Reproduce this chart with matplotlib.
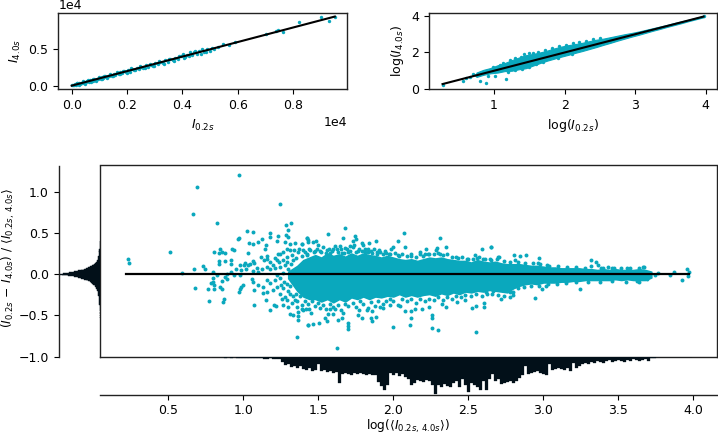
import numpy as np
import matplotlib
matplotlib.use("Agg")
import matplotlib.pyplot as plt

TEAL = '#0aa8bd'
DARK = '#021019'

# top left panel, raw intensities
raw_points = [(20,30),(60,120),(90,40),(120,200),(150,110),(190,300),(220,170),(260,340),(300,240),(330,410),(370,320),(410,470),
    (450,380),(490,560),(520,450),(570,630),(610,540),(650,720),(690,620),(730,800),(770,690),(820,880),(860,780),(900,980),
    (950,860),(1000,1080),(1040,960),(1090,1170),(1140,1040),(1190,1270),(1240,1150),(1300,1380),(1350,1260),(1400,1480),
    (1460,1360),(1520,1590),(1580,1470),(1640,1900),(1700,1600),(1760,1840),(1820,1720),(1890,1970),(1950,1860),(2030,2120),
    (2100,1900),(2180,2290),(2260,2110),(2340,2440),(2420,2290),(2500,2580),(2590,2450),(2680,2820),(2760,2620),(2850,2900),
    (2930,2770),(3020,3150),(3110,2990),(3200,3250),(3290,3090),(3380,3500),(3470,3320),(3560,3690),(3650,3510),(3740,3830),
    (3830,3700),(3930,4020),(4010,4350),(4080,3880),(4170,4240),(4260,4580),(4340,4230),(4430,4600),(4520,4420),(4610,4830),
    (4700,4980),(4790,4560),(4880,5100),(4980,4830),(5130,5040),(5290,5370),(5480,5720),(5680,5610),(5900,5960),(7000,7160),
    (7380,7450),(7630,7420),(7450,7640),(8200,8790),(9000,9400),(9300,8930),(9490,9430)]
raw_fringe = [(200,420),(280,120),(400,600),(480,250),(590,780),(680,470),(780,970),(880,650),(980,1180),(1080,870),(1180,1380),
    (1280,1050),(1380,1570),(1500,1320),(1620,1750),(1740,1540),(1860,2060),(1980,1780),(2150,2380),(2300,2090),(2460,2680),
    (2640,2390),(2820,3010),(2980,2730),(3150,3340),(3320,3040),(3500,3720),(3700,3440),(3880,4090),(4050,3750),(4250,4060),
    (4460,4750),(4660,4400),(4850,4680),(5050,5180)]
raw_line_x = [0, 9500]
raw_line_y = [0, 9500]

# top right panel, log intensities, band edges then stray points
log_band_x = [0.75,0.85,0.95,1.05,1.15,1.25,1.35,1.45,1.55,1.65,1.75,1.85,1.95,2.05,2.15,2.25,2.35,2.45,2.55,2.65,
    2.75,2.85,2.95,3.05,3.15,3.25,3.35,3.45,3.55,3.65,3.75,3.85,3.97]
log_band_hi = [0.9,1.05,1.15,1.3,1.42,1.58,1.72,1.85,1.92,2.0,2.1,2.22,2.32,2.4,2.46,2.53,2.62,2.7,2.76,2.84,
    2.92,3.0,3.07,3.15,3.24,3.33,3.42,3.51,3.61,3.7,3.79,3.89,4.0]
log_band_lo = [0.66,0.78,0.86,0.9,0.98,1.0,1.08,1.14,1.28,1.42,1.55,1.66,1.77,1.87,1.98,2.08,2.19,2.3,2.42,2.53,
    2.65,2.76,2.87,2.97,3.08,3.19,3.29,3.4,3.5,3.6,3.71,3.81,3.93]
log_points = [(0.272,0.2),(0.565,0.455),(0.6,0.6),(0.66,0.66),(0.7,0.82),(0.74,0.75),(0.8,0.46),(0.88,0.35),(0.82,0.9),
    (0.92,0.72),(1.17,0.55),(1.02,0.7),(1.13,1.45),(1.38,1.75),(1.55,1.97),(2.12,2.5),(2.4,2.75),(3.97,3.98),
    (0.98,1.22),(1.08,1.34),(1.22,1.6),(1.3,1.72),(1.42,1.9),(1.5,1.95),(1.62,2.03),(1.72,2.12),(1.82,2.26),(1.92,2.36),(2.02,2.43),
    (2.2,2.56),(2.3,2.64),(2.5,2.8),(1.2,0.95),(1.3,1.03),(1.4,1.1),(1.5,1.18),(1.6,1.36),(1.7,1.48),(1.9,1.7),(2.1,1.9)]
log_line_x = [0.27, 3.97]
log_line_y = [0.27, 3.97]

left_points = [(.969,1.206),(.693,1.056),(1.245,.85),(.662,.728),(.825,.619),(1.282,.599),(1.316,.619),(1.30,.53),(1.022,.522),
    (1.063,.51),(.971,.437),(.965,.425),(1.285,.473),(1.18,.494),(1.178,.449),(1.233,.457),(1.296,.449),(1.122,.425),(1.10,.393),
    (1.038,.38),(1.065,.364),(1.222,.404),(1.278,.384),(1.311,.364),(1.345,.372),(1.389,.36),(1.422,.433),(1.433,.392),(1.151,.352),
    (1.145,.303),(.845,.311),(.805,.271),(.84,.259),(.856,.263),(.878,.255),(.922,.303),(.938,.295),(1.033,.255),(.514,.263),
    (.2313,.186),(.238,.137),(1.116,.21),(1.16,.222),(1.156,.182),(1.138,.17),(.836,.154),(.838,.121),(.878,.154),(.918,.174),
    (.916,.121),(1.063,.162),(1.071,.137),(1.045,.125),(1.011,.137),(1.007,.117),(.978,.109),(1.033,.109),(.734,.097),(.747,.057),
    (.671,.065),(.589,.012),(.796,.028),(.92,.032),(.949,.065),(.987,.045),(1.016,.057),(1.089,.069),(1.122,.061),(1.067,.036),
    (1.10,.028),(.822,-.012),(.889,.008),(.94,-.012),(.978,-.012),(.80,-.045),(.878,-.04),(.893,-.056),(.856,-.085),(.796,-.093),
    (.785,-.105),(.805,-.133),(.678,-.166),(.762,-.182),(.807,-.182),(.845,-.154),(.856,-.174),(.983,-.158),(1.0,-.137),(.978,-.182),
    (.973,-.222),(1.056,-.06),(1.067,-.10),(1.10,-.133),(1.071,-.194),(1.134,-.154),(1.129,-.23),(1.156,-.214),(1.149,-.311),
    (.774,-.324),(.871,-.295),(.862,-.34),(1.073,-.368),(1.178,-.429),(1.207,-.376),(1.218,-.384),(1.267,-.376),(1.30,-.396),
    (1.311,-.477),(1.329,-.497),(1.367,-.457),(1.362,-.506),(1.367,-.558),(1.429,-.619),(1.356,-.76),
    (1.178,.15),(1.2,.11),(1.222,.17),(1.245,.24),(1.267,.263),(1.289,.311),(1.311,.29),(1.233,.25),(1.322,.23),(1.367,.263),
    (1.389,.22),(1.267,.17),(1.289,.21),(1.333,.17),(1.4,.29),(1.422,.25),(1.211,.07),(1.156,.09),(1.178,.06),(1.245,.09),(1.278,.11),
    (1.156,-.07),(1.178,-.11),(1.211,-.07),(1.245,-.05),(1.222,-.15),(1.2,-.19),(1.245,-.235),(1.267,-.17),(1.278,-.275),(1.311,-.235),
    (1.256,-.295),(1.345,-.315),(1.322,-.355),(1.389,-.376),(1.4,-.437),(1.356,-.396),(1.44,-.416),(1.289,-.125),(1.222,-.01),
    (1.267,.01),(1.311,-.01),(1.30,.06),(1.32,.12),(1.27,-.09),(1.31,-.14),(1.33,-.07),(1.29,.15),(1.35,.2),(1.37,.31),(1.34,.29),
    (1.3,-.2),(1.33,-.27),(1.36,-.33),(1.25,-.13),(1.35,-.24),(1.29,-.31),(1.24,.15),(1.21,.2)]
upper_points = [(1.676,.558),(1.562,.485),(2.074,.498),(1.667,.437),(1.745,.465),(1.749,.421),(1.734,.40),(1.422,.441),(1.433,.413),
    (1.462,.396),(1.485,.404),(1.50,.352),(1.389,.364),(1.645,.34),(1.678,.32),(1.711,.344),(1.74,.352),(1.789,.38),(1.80,.352),
    (1.838,.38),(1.811,.31),(1.885,.40),(2.029,.40),(2.078,.328),(2.311,.437),(2.218,.303),(2.282,.291),(2.289,.32),(2.351,.324),
    (2.178,.263),(2.589,.303),(2.651,.328),(1.982,.311),(1.996,.328),(1.907,.291),(1.945,.279),(2.229,.239),(2.04,.222),(2.545,.23),
    (2.556,.202),(2.645,.19),(2.70,.21),(1.445,.291),(1.478,.283),(1.556,.291),(1.60,.31),(1.622,.303),(1.656,.259),(1.767,.283),
    (1.833,.263),(1.889,.263),(1.422,.23),(1.52,.27),(1.58,.26),(1.7,.27),(1.86,.26),(1.97,.25),(2.12,.22),(2.2,.22),(2.31,.24),
    (2.42,.21),(2.5,.19),(2.6,.19)]
upper_fringe = [(1.41,.27),(1.44,.3),(1.47,.27),(1.49,.31),(1.51,.28),(1.53,.33),(1.55,.26),(1.57,.31),(1.59,.28),(1.61,.34),(1.63,.27),
    (1.65,.3),(1.67,.26),(1.69,.31),(1.71,.28),(1.73,.33),(1.75,.27),(1.77,.31),(1.79,.28),(1.81,.27),(1.83,.31),(1.85,.28),(1.87,.3),
    (1.89,.24),(1.91,.27),(1.93,.24),(1.95,.26),(1.98,.24),(2.01,.26),(2.03,.23),(2.06,.25),(2.09,.22),(2.12,.25),(2.15,.21),(2.18,.24),
    (2.21,.24),(2.24,.25),(2.27,.24),(2.3,.26),(2.33,.23),(2.36,.25),(2.39,.21),(2.43,.2),(2.46,.21),(2.49,.18),(2.53,.19),(2.57,.21),
    (2.61,.18),(2.65,.17),(2.69,.18),(2.74,.16),(2.78,.15),(2.83,.15),(2.88,.14),(2.93,.13),(2.98,.12),(3.04,.1),(3.1,.1),(3.16,.09),
    (3.22,.09),(3.28,.08),(3.4,.08),(3.46,.07),(3.52,.07),(3.58,.07),(3.64,.08)]
lower_points = [(1.625,-.89),(2.0,-.635),(2.551,-.696),(2.111,-.615),(2.118,-.534),(2.256,-.647),(2.3,-.672),(2.256,-.498),(2.26,-.534),
    (1.70,-.586),(1.70,-.63),(1.70,-.67),(1.429,-.619),(1.467,-.603),(1.505,-.59),(1.556,-.57),(1.545,-.526),(1.633,-.558),(1.656,-.534),
    (1.6,-.486),(1.662,-.465),(1.767,-.498),(1.794,-.526),(1.774,-.429),(1.822,-.437),(1.86,-.449),(1.851,-.526),(1.856,-.57),(1.887,-.514),
    (1.933,-.413),(2.076,-.449),(2.118,-.445),(2.145,-.417),(2.189,-.421),(2.24,-.396),(2.349,-.396),(2.322,-.356),(2.522,-.413),
    (2.554,-.38),(2.607,-.396),(2.607,-.348),(2.622,-.243),(1.389,-.425),(1.418,-.417),(1.451,-.465),(1.511,-.405),(1.567,-.478),
    (1.578,-.417),(1.611,-.417),(1.911,-.396),(1.978,-.376),(2.045,-.388),(2.422,-.336),(2.478,-.316)]
lower_fringe = [(1.38,-.27),(1.41,-.33),(1.43,-.36),(1.46,-.33),(1.48,-.39),(1.5,-.35),(1.53,-.37),(1.55,-.42),(1.58,-.36),(1.6,-.4),
    (1.63,-.37),(1.65,-.43),(1.68,-.36),(1.7,-.39),(1.73,-.35),(1.75,-.4),(1.78,-.33),(1.8,-.36),(1.83,-.41),(1.85,-.34),(1.88,-.38),
    (1.9,-.33),(1.93,-.36),(1.95,-.32),(1.98,-.3),(2.0,-.33),(2.03,-.37),(2.06,-.3),(2.09,-.33),(2.12,-.3),(2.15,-.35),(2.18,-.3),
    (2.21,-.33),(2.24,-.3),(2.27,-.31),(2.3,-.28),(2.33,-.31),(2.36,-.28),(2.39,-.3),(2.42,-.26),(2.45,-.28),(2.48,-.25),(2.52,-.27),
    (2.55,-.24),(2.59,-.26),(2.62,-.22),(2.66,-.24),(2.7,-.25),(2.74,-.27),(2.78,-.28),(2.8,-.22),(2.83,-.17),(2.87,-.15),(2.92,-.14),
    (2.97,-.14),(3.03,-.12),(3.09,-.12),(3.15,-.11),(3.22,-.1),(3.3,-.09),(3.38,-.09),(3.46,-.08),(3.55,-.09),(3.64,-.09)]
right_points = [(2.652,.331),(2.705,.21),(2.807,.238),(2.845,.226),(2.887,.238),(2.812,.17),(2.974,.194),(2.967,.137),(3.023,.117),
    (3.318,.17),(3.321,.105),(3.352,.145),(3.367,.109),(3.385,.07),(3.434,.09),(3.472,.08),(3.556,.077),(3.663,.09),(3.672,.09),
    (3.767,.02),(3.872,.028),(3.845,-.012),(3.956,.06),(3.972,.028),(3.963,-.025),(3.927,-.065),(3.623,-.08),(3.689,-.057),(3.745,-.012),
    (3.245,-.174),(2.947,-.292),(2.721,-.304),(2.989,-.178),(3.018,-.146),(2.734,-.195),(2.796,-.255),(2.778,-.215),(2.756,-.175),(2.667,-.207)]

# solid part of the cloud, read as its edges
core_x = [1.30,1.36,1.40,1.44,1.48,1.52,1.56,1.60,1.64,1.68,1.72,1.76,1.80,1.84,1.88,1.92,1.96,2.00,2.04,2.08,2.12,2.16,2.20,2.24,
    2.28,2.32,2.36,2.40,2.44,2.48,2.52,2.56,2.60,2.64,2.68,2.72,2.76,2.80,2.84,2.88,2.92,2.96,3.00,3.04,3.08,3.12,3.16,3.20,3.24,
    3.28,3.32,3.36,3.40,3.44,3.48,3.52,3.56,3.60,3.64,3.68,3.72]
core_hi = [.03,.10,.17,.20,.23,.20,.25,.22,.24,.21,.25,.22,.25,.23,.22,.20,.22,.20,.18,.17,.18,.16,.18,.20,.19,.20,.18,.17,.16,.16,
    .14,.17,.15,.14,.15,.13,.12,.12,.12,.11,.10,.10,.09,.08,.08,.07,.07,.07,.07,.06,.06,.05,.06,.05,.06,.05,.05,.05,.06,.05,.03]
core_lo = [-.05,-.20,-.27,-.30,-.30,-.33,-.30,-.34,-.30,-.33,-.28,-.30,-.27,-.30,-.27,-.28,-.26,-.27,-.24,-.27,-.25,-.27,-.25,-.24,
    -.26,-.23,-.25,-.22,-.24,-.21,-.22,-.20,-.21,-.19,-.20,-.21,-.22,-.17,-.14,-.12,-.11,-.12,-.10,-.10,-.10,-.09,-.09,-.08,-.08,
    -.07,-.07,-.07,-.07,-.07,-.06,-.07,-.06,-.07,-.07,-.07,-.04]
mean_line_x = [0.22, 3.97]
mean_line_y = [0, 0]

# marginal histograms, ten bins to a line
hist_x_start = 0.80
hist_x_width = 0.02
hist_x_counts = [.5,.3,.6,.4,.8,.5,1,.6,1.2,.8,
    1,1.2,1,1.5,1.2,1.6,1.4,1.8,2,1.7,
    2.2,2.6,2.2,5,8,7,10,9,11,9,
    12,13,11,14,13,7,14,13,15,14,
    16,15,26,17,16,17,18,16,17,16,
    17,18,17,18,18,25,29,33,28,16,
    18,16,19,17,20,22,28,26,23,24,
    25,23,24,28,37,28,30,27,29,30,
    26,24,30,22,28,35,26,28,30,33,
    24,33,22,17,24,22,27,26,25,24,
    26,24,21,18,9,17,16,15,14,16,
    17,18,7,13,12,11,12,13,11,14,
    6,11,9,7,6,7,5,6,4,5,
    6,4,3,5,4,3,4,5,3,4,
    2,3,4,3,2,4,1,.8,.6,.7,
    .5,.6,.4,.5,.4,.6,.3,.4,.3,.5]
hist_y_bins = [.40,.39,.38,.37,.36,.35,.34,.33,.32,.31,.30,.29,.28,.27,.26,.25,.24,.23,.22,.21,.20,.19,.18,.17,.16,.15,.14,.13,.12,.11,
    .10,.09,.08,.07,.06,.05,.04,.03,.02,.01,0,-.01,-.02,-.03,-.04,-.05,-.06,-.07,-.08,-.09,-.10,-.11,-.12,-.13,-.14,-.15,-.16,-.17,-.18,
    -.19,-.20,-.21,-.22,-.23,-.24,-.25,-.26,-.27,-.28,-.29,-.30,-.31,-.32,-.33,-.34,-.35,-.36,-.37,-.38,-.39,-.40,-.41,-.42,-.43,-.44,
    -.46,-.48,-.50,-.52]
hist_y_counts = [.2,.2,.2,.3,.3,.3,.4,.4,.5,.5,.6,.7,.7,.8,.9,1,1.1,1.2,1.4,1.6,1.8,2,2.3,2.6,3,3.5,4.1,4.9,5.8,7,8.4,10,12,14,16.5,19,
    22.5,26,31,37,41,38,32,26,22,19,16,14,12,10.5,9,8,7,6,5.2,4.6,4.1,3.7,3.4,3.1,2.8,2.5,2.3,2.1,1.9,1.7,1.6,1.4,1.3,1.2,1.1,1,.9,.8,
    .8,.7,.6,.6,.5,.5,.4,.4,.4,.3,.3,.3,.3,.2,.2]

W, H = 718, 436
plt.rcParams['font.size'] = 9
plt.rcParams['axes.linewidth'] = 1.0
plt.rcParams['axes.edgecolor'] = '#222222'
plt.rcParams['mathtext.default'] = 'it'
fig = plt.figure(figsize=(W / 100, H / 100), dpi=100)


def box(x0, y0, x1, y1):
    return [x0 / W, 1 - y1 / H, (x1 - x0) / W, (y1 - y0) / H]


def dots(ax, pts, s):
    ax.scatter([p[0] for p in pts], [p[1] for p in pts], s=s, color=TEAL, linewidths=0, zorder=2)


# top left
ax1 = fig.add_axes(box(58.3, 12.7, 346.7, 89.3))
dots(ax1, raw_points, 6)
dots(ax1, raw_fringe, 6)
ax1.plot(raw_line_x, raw_line_y, color='k', lw=1.5, zorder=3)
ax1.set_xlim(-484, 9930)
ax1.set_ylim(-500, 10030)
ax1.set_xticks([0, 2000, 4000, 6000, 8000])
ax1.set_yticks([0, 5000])
ax1.ticklabel_format(style='sci', scilimits=(4, 4), axis='both')
ax1.set_xlabel(r'$I_{0.2s}$')
ax1.set_ylabel(r'$I_{4.0s}$')

# top right
ax2 = fig.add_axes(box(429, 12.7, 716.7, 89))
ax2.fill_between(log_band_x, log_band_lo, log_band_hi, color=TEAL, lw=0.8, zorder=1)
dots(ax2, log_points, 6)
ax2.plot(log_line_x, log_line_y, color='k', lw=1.5, zorder=3)
ax2.set_xlim(0.078, 4.156)
ax2.set_ylim(0, 4.18)
ax2.set_xticks([1, 2, 3, 4])
ax2.set_yticks([0, 2, 4])
ax2.set_xlabel(r'$\log(I_{0.2s})$')
ax2.set_ylabel(r'$\log(I_{4.0s})$')

# bottom main
ax3 = fig.add_axes(box(100, 165.5, 717, 356.7))
ax3.fill_between(core_x, core_lo, core_hi, color=TEAL, lw=1.2, zorder=1)
for pts in (left_points, upper_points, upper_fringe, lower_points, lower_fringe, right_points):
    dots(ax3, pts, 8)
ax3.plot(mean_line_x, mean_line_y, color='k', lw=1.6, zorder=3)
ax3.set_xlim(0.045, 4.158)
ax3.set_ylim(-1, 1.317)
ax3.set_xticks([])
ax3.set_yticks([])

# left marginal
ax4 = fig.add_axes(box(58.7, 165.5, 100, 356.7))
ax4.barh(hist_y_bins, hist_y_counts, height=0.0105, color=DARK, edgecolor=DARK, lw=0.3)
ax4.set_xlim(41.3, 0)
ax4.set_ylim(-1, 1.317)
ax4.set_xticks([])
ax4.set_yticks([-1, -0.5, 0, 0.5, 1])
ax4.spines[['top', 'right', 'bottom']].set_visible(False)
ax4.set_ylabel(r'$(I_{0.2s}\,-\,I_{4.0s})\ /\ \langle I_{0.2s,\,4.0s}\rangle$', fontsize=8.8)
ax4.yaxis.set_label_coords(-1.02, 0.516)
ax4.patch.set_alpha(0)

# bottom marginal
ax5 = fig.add_axes(box(100, 356.7, 717, 394.7))
bin_x = [hist_x_start + i * hist_x_width for i in range(len(hist_x_counts))]
ax5.bar(bin_x, hist_x_counts, width=hist_x_width, color=DARK, edgecolor=DARK, lw=0.2)
ax5.set_xlim(0.045, 4.158)
ax5.set_ylim(38, 0)
ax5.set_yticks([])
ax5.set_xticks([0.5, 1, 1.5, 2, 2.5, 3, 3.5, 4])
ax5.spines[['top', 'right', 'left']].set_visible(False)
ax5.set_xlabel(r'$\log(\langle I_{0.2s,\,4.0s}\rangle)$', fontsize=8.8)
ax5.xaxis.set_label_coords(0.5, -0.62)
ax5.patch.set_alpha(0)

fig.savefig('out.png', dpi=100)
